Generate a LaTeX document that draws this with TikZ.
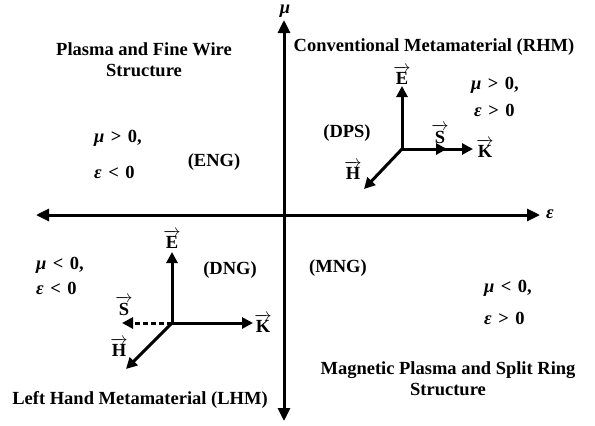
\documentclass[tikz,border=0pt]{standalone}
\usepackage{fontspec}
\setmainfont{Liberation Serif}
\usepackage{amsmath}
\usetikzlibrary{arrows.meta}

\newcommand{\fvec}[1]{$\overrightarrow{\textbf{#1}}$}
\newcommand{\rel}[1]{\hspace{0.35em}#1\hspace{0.35em}}

\begin{document}
\begin{tikzpicture}[
    x=1pt, y=-1pt,
    every node/.style={font=\fontsize{18.5}{21}\selectfont\bfseries, inner sep=1pt},
    axis/.style={line width=3pt, -{Triangle[length=13pt, width=12pt]}},
    vec/.style={line width=3pt, -{Triangle[length=11pt, width=11pt]}},
    cond/.style={anchor=west},
    txt/.style={align=center},
]
    \useasboundingbox (0,0) rectangle (595,426);

    % axes
    \coordinate (orig) at (284,215);
    \coordinate (left) at (36,215);
    \coordinate (right) at (540,215);
    \coordinate (top) at (284,20);
    \coordinate (bottom) at (284,421);
    \draw[axis] (orig) -- (right);
    \draw[axis] (orig) -- (left);
    \draw[axis] (orig) -- (top);
    \draw[axis] (orig) -- (bottom);
    \node (mu) at (285,11) {\itshape μ};
    \node (eps) at (550,214) {\itshape ε};

    % quadrant titles
    \node[txt] (pfw) at (144,60) {Plasma and Fine Wire\\Structure};
    \node (rhm) at (434,47) {Conventional Metamaterial (RHM)};
    \node (lhm) at (140,400) {Left Hand Metamaterial (LHM)};
    \node[txt] (mps) at (448,379) {Magnetic Plasma and Split Ring\\Structure};

    % conditions
    \node[cond] (c1a) at (93,138) {{\itshape μ}\rel{>}0,};
    \node[cond] (c1b) at (93,172) {{\itshape ε}\rel{<}0};
    \node[cond] (c2a) at (470,85) {{\itshape μ}\rel{>}0,};
    \node[cond] (c2b) at (473,110) {{\itshape ε}\rel{>}0};
    \node[cond] (c3a) at (35,265) {{\itshape μ}\rel{<}0,};
    \node[cond] (c3b) at (35,288) {{\itshape ε}\rel{<}0};
    \node[cond] (c4a) at (483,288) {{\itshape μ}\rel{<}0,};
    \node[cond] (c4b) at (483,318) {{\itshape ε}\rel{>}0};

    \node (eng) at (214,162) {(ENG)};
    \node (dps) at (347,133) {(DPS)};
    \node (dng) at (230,270) {(DNG)};
    \node (mng) at (338,268) {(MNG)};

    % right handed triad
    \coordinate (o1) at (402,149);
    \coordinate (e1) at (402,86);
    \coordinate (s1) at (447,149);
    \coordinate (k1) at (473,149);
    \coordinate (h1) at (364,189);
    \draw[vec] (o1) -- (e1);
    \draw[vec] (o1) -- (s1);
    \draw[vec] (o1) -- (k1);
    \draw[vec] (o1) -- (h1);
    \node (le1) at (402,75) {\fvec{E}};
    \node (ls1) at (440,134) {\fvec{S}};
    \node (lk1) at (485,148) {\fvec{K}};
    \node (lh1) at (353,170) {\fvec{H}};

    % left handed triad
    \coordinate (o2) at (172,323);
    \coordinate (e2) at (172,252);
    \coordinate (s2) at (122,323);
    \coordinate (k2) at (253,323);
    \coordinate (h2) at (126,369);
    \draw[vec] (o2) -- (e2);
    \draw[vec, dash pattern=on 5pt off 3pt] (o2) -- (s2);
    \draw[vec] (o2) -- (k2);
    \draw[vec] (o2) -- (h2);
    \node (le2) at (172,239) {\fvec{E}};
    \node (ls2) at (124,306) {\fvec{S}};
    \node (lk2) at (263,323) {\fvec{K}};
    \node (lh2) at (119,347) {\fvec{H}};
\end{tikzpicture}
\end{document}
